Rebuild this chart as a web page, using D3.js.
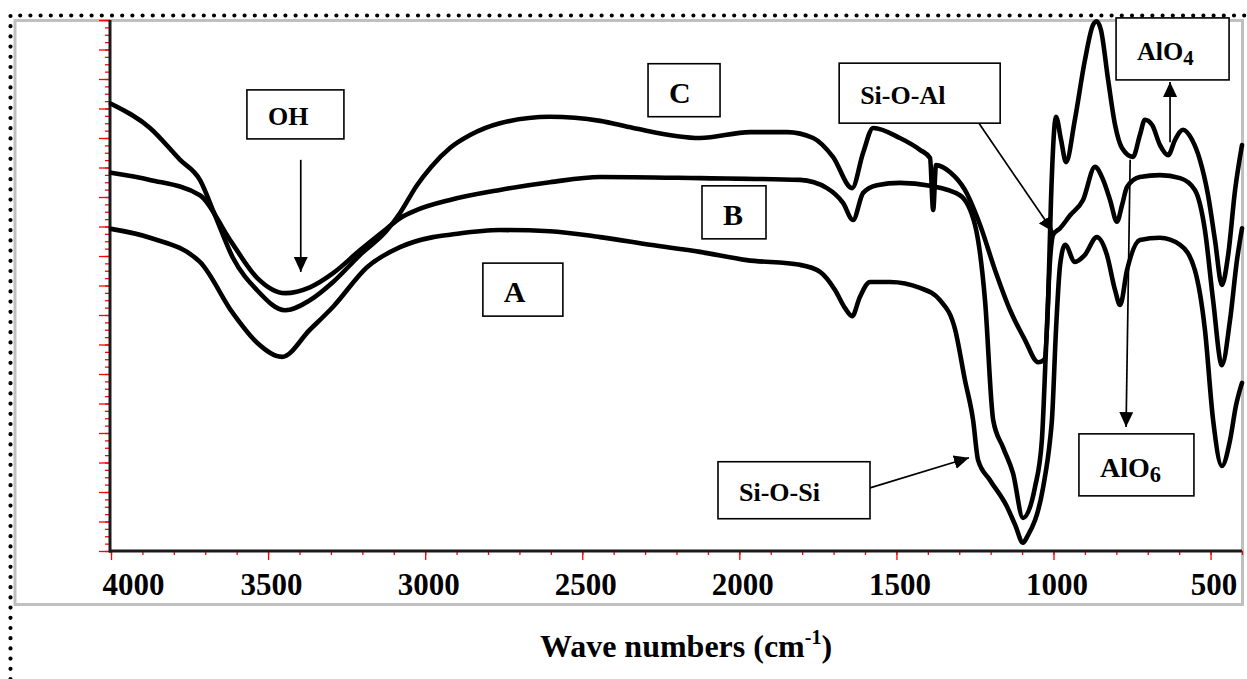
<!DOCTYPE html>
<html>
<head>
<meta charset="utf-8">
<script src="https://cdn.jsdelivr.net/npm/d3@7/dist/d3.min.js"></script>
<style>
html,body{margin:0;padding:0;background:#fff;}
svg{display:block;}
</style>
</head>
<body>
<svg id="chart" width="1247" height="679"></svg>
<script>
// FTIR spectra, [wave number (cm-1), transmittance (arb.)]
var seriesA = [[4000,54.6],[3876,53.1],[3717,49.0],[3612,40.3],[3535,35.3],[3456,32.9],[3367,37.5],[3293,41.4],[3185,48.1],[3080,51.5],[2975,53.2],[2921,53.6],[2762,54.4],[2603,54.2],[2443,53.2],[2284,51.9],[2125,50.7],[1976,49.3],[1807,48.5],[1743,47.3],[1695,44.2],[1664,41.2],[1641,39.8],[1616,43.1],[1584,45.6],[1520,45.6],[1425,44.6],[1361,42.5],[1313,37.5],[1282,29.0],[1256,22.2],[1240,15.4],[1202,12.0],[1148,7.5],[1122,4.4],[1097,1.4],[1084,2.4],[1033,10.8],[1011,18.8],[1005,22.2],[992,37.5],[979,48.5],[963,51.9],[932,49.0],[900,50.2],[862,53.2],[830,50.2],[804,44.2],[788,41.7],[766,47.6],[725,52.7],[661,53.1],[597,51.9],[550,47.6],[518,37.5],[492,22.2],[464,14.4],[438,18.8],[419,24.7],[400,28.5]];
var seriesB = [[4000,64.1],[3876,62.9],[3717,60.3],[3621,52.7],[3535,46.3],[3446,43.7],[3367,44.7],[3293,47.1],[3207,51.0],[3121,54.7],[3080,56.4],[3026,57.8],[2921,59.5],[2762,61.2],[2603,62.5],[2443,63.4],[2125,63.2],[1807,62.9],[1721,61.5],[1670,59.0],[1638,56.1],[1606,60.7],[1562,62.0],[1489,62.4],[1393,61.9],[1298,60.3],[1250,55.3],[1218,42.5],[1192,22.2],[1161,17.6],[1129,13.2],[1097,5.6],[1059,10.8],[1037,18.8],[1024,34.1],[1011,49.3],[1001,53.6],[979,54.7],[947,56.9],[906,59.5],[868,65.1],[842,62.9],[820,59.5],[798,55.8],[782,58.6],[766,61.7],[725,63.4],[661,63.7],[597,63.2],[550,61.2],[518,54.4],[492,42.5],[464,31.5],[438,39.2],[416,49.3],[400,54.7]];
var seriesC = [[4000,75.8],[3876,71.7],[3780,66.3],[3717,62.9],[3669,56.9],[3612,49.7],[3535,44.2],[3446,40.8],[3367,42.5],[3293,45.6],[3207,50.2],[3121,54.4],[3080,57.3],[3026,62.0],[2981,65.1],[2921,68.3],[2857,70.5],[2762,72.5],[2603,73.6],[2443,72.9],[2338,71.7],[2125,70.0],[1966,71.0],[1848,71.0],[1765,70.0],[1702,66.8],[1641,61.5],[1606,67.5],[1574,71.7],[1489,70.0],[1425,68.0],[1393,66.6],[1383,57.8],[1374,65.4],[1329,64.2],[1282,61.2],[1234,55.3],[1186,47.6],[1138,40.8],[1091,35.8],[1049,32.0],[1030,32.4],[1017,42.5],[1008,59.5],[992,73.6],[976,69.7],[960,65.9],[932,73.1],[900,83.2],[874,89.2],[862,89.8],[849,88.3],[826,79.8],[804,72.2],[782,68.3],[747,66.8],[725,70.5],[709,73.1],[686,72.2],[661,68.8],[635,67.1],[613,69.7],[588,71.4],[559,69.7],[534,66.3],[508,60.3],[486,52.7],[464,45.1],[444,50.2],[422,61.2],[400,68.8]];

var xLabels = [4000,3500,3000,2500,2000,1500,1000,500];
var xMinor = d3.range(4000, 399, -100);
var yMajor = d3.range(0, 90.01, 5);
var yMinor = d3.range(0, 90.01, 1.25);

// annotation boxes and arrows, placed in data coordinates
var notes = [
  {t:"OH", sub:"", w:3413, v:74.0, bw:97, bh:49, fs:26},
  {t:"C", sub:"", w:2176, v:78.1, bw:72, bh:53, fs:30},
  {t:"B", sub:"", w:2017, v:57.4, bw:64, bh:53, fs:30},
  {t:"A", sub:"", w:2689, v:44.3, bw:80, bh:53, fs:30},
  {t:"Si-O-Al", sub:"", w:1426, v:77.6, bw:161, bh:60, fs:26},
  {t:"AlO", sub:"4", w:621, v:85.1, bw:113, bh:62, fs:26},
  {t:"AlO", sub:"6", w:736, v:14.6, bw:115, bh:62, fs:28},
  {t:"Si-O-Si", sub:"", w:1826, v:10.3, bw:152, bh:57, fs:26}
];
var arrows = [
  [[3396,66.3],[3396,47.3]],
  [[629,69.3],[629,79.5]],
  [[756,66.3],[769,21.0]],
  [[1584,10.7],[1269,15.8]],
  [[1240,72.7],[1001,54.1]]
];

var svg = d3.select("#chart");
var font = "'Liberation Serif','Times New Roman',serif";

var x = d3.scaleLinear().domain([4000, 400]).range([111, 1242]);
var y = d3.scaleLinear().domain([0, 90]).range([551, 20]);

// outer dotted border
svg.append("path")
  .attr("d","M10.5,679 L10.5,15.5 L1247,15.5")
  .attr("fill","none").attr("stroke","#000")
  .attr("stroke-width",4.2).attr("stroke-linecap","round")
  .attr("stroke-dasharray","0 10.2");

// grey chart frame
svg.append("rect")
  .attr("x",15).attr("y",20.5).attr("width",1227.5).attr("height",584)
  .attr("fill","none").attr("stroke","#c0c0c0").attr("stroke-width",3);

var defs = svg.append("defs");
defs.append("marker").attr("id","head")
  .attr("markerUnits","userSpaceOnUse")
  .attr("markerWidth",16).attr("markerHeight",14)
  .attr("refX",15).attr("refY",7).attr("orient","auto")
  .append("path").attr("d","M0,0 L15,7 L0,14 Z").attr("fill","#000");

// y axis ticks
var gy = svg.append("g").attr("transform","translate(110,0)");
gy.append("g").call(d3.axisLeft(y).tickValues(yMinor).tickSize(5).tickFormat(""));
gy.append("g").call(d3.axisLeft(y).tickValues(yMajor).tickSize(11).tickFormat(""));
gy.selectAll(".domain").remove();
gy.selectAll(".tick line").attr("stroke","#ff0000").attr("stroke-width",1.3);

// x axis ticks and labels
var gx = svg.append("g").attr("transform","translate(0,551)");
gx.append("g").call(d3.axisBottom(x).tickValues(xMinor).tickSize(4).tickFormat(""));
var gxl = gx.append("g").call(d3.axisBottom(x).tickValues(xLabels).tickSize(9).tickFormat(d3.format("d")));
gx.selectAll(".domain").remove();
gx.selectAll(".tick line").attr("stroke","#ff0000").attr("stroke-width",1.3);
gxl.selectAll(".tick text")
  .attr("font-family",font).attr("font-weight","bold").attr("font-size",31)
  .attr("fill","#000").attr("y",44).attr("dy",0)
  .attr("dx",function(d){ return d===4000 ? 22 : 3; });

// axis lines
svg.append("line").attr("x1",110).attr("x2",110).attr("y1",20).attr("y2",552.5)
  .attr("stroke","#1a1a1a").attr("stroke-width",3);
svg.append("line").attr("x1",109).attr("x2",1242).attr("y1",551).attr("y2",551)
  .attr("stroke","#1a1a1a").attr("stroke-width",3);

// spectra
var line = d3.line()
  .x(function(d){ return x(d[0]); })
  .y(function(d){ return y(d[1]); })
  .curve(d3.curveMonotoneX);
[seriesA, seriesB, seriesC].forEach(function(s){
  svg.append("path").datum(s)
    .attr("d",line)
    .attr("fill","none").attr("stroke","#000")
    .attr("stroke-width",4.6).attr("stroke-linejoin","round").attr("stroke-linecap","round");
});

// arrows
arrows.forEach(function(a){
  svg.append("line")
    .attr("x1",x(a[0][0])).attr("y1",y(a[0][1]))
    .attr("x2",x(a[1][0])).attr("y2",y(a[1][1]))
    .attr("stroke","#000").attr("stroke-width",1.7)
    .attr("marker-end","url(#head)");
});

// labelled boxes
notes.forEach(function(n){
  var cx = x(n.w), cy = y(n.v);
  var g = svg.append("g");
  g.append("rect")
    .attr("x",cx-n.bw/2).attr("y",cy-n.bh/2)
    .attr("width",n.bw).attr("height",n.bh)
    .attr("fill","#fff").attr("stroke","#000").attr("stroke-width",1.6);
  var t = g.append("text")
    .attr("x",cx-n.bw/2+21).attr("y",cy+n.fs*0.42)
    .attr("font-family",font).attr("font-weight","bold").attr("font-size",n.fs)
    .text(n.t);
  if(n.sub){
    t.append("tspan").attr("font-size",n.fs*0.8).attr("dy",5).text(n.sub);
  }
});

// axis title
var title = svg.append("text")
  .attr("x",686).attr("y",657).attr("text-anchor","middle")
  .attr("font-family",font).attr("font-weight","bold").attr("font-size",32)
  .text("Wave numbers (cm");
title.append("tspan").attr("font-size",20).attr("dy",-13).text("-1");
title.append("tspan").attr("dy",13).text(")");
</script>
</body>
</html>
